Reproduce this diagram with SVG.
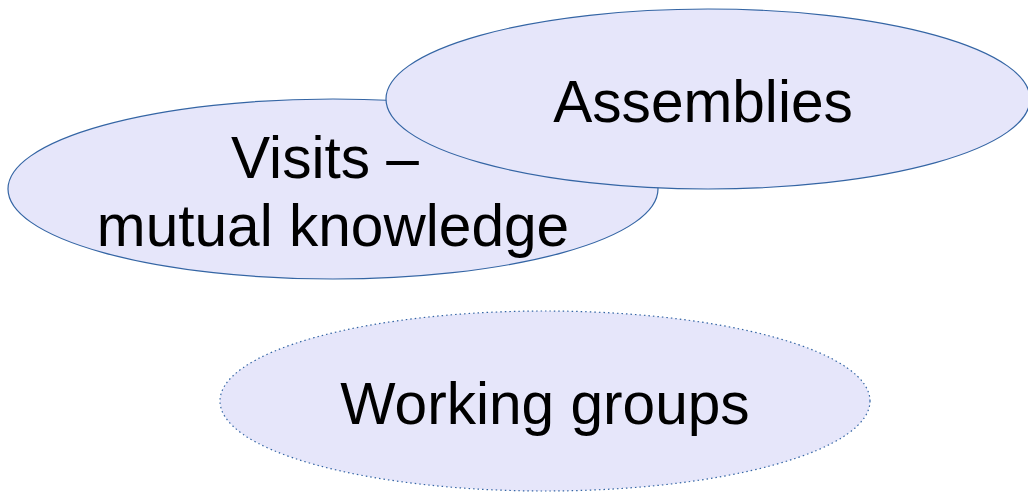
<svg xmlns="http://www.w3.org/2000/svg" width="1028" height="494" viewBox="0 0 1028 494">
<style>
.n{fill:#e6e6fa;stroke:#3465a4;stroke-width:1.2}
.d{stroke-dasharray:1.5 3}
text{font-family:"Liberation Sans",Arial,sans-serif;font-size:58.6px;fill:#000;text-anchor:middle}
</style>
<rect width="1028" height="494" fill="#fff"/>
<g id="visits">
<ellipse class="n" cx="333" cy="189" rx="325" ry="90"/>
<text x="325" y="178">Visits –</text>
<text x="333" y="246">mutual knowledge</text>
</g>
<g id="assemblies">
<ellipse class="n" cx="708" cy="99" rx="322" ry="90"/>
<text x="703" y="122">Assemblies</text>
</g>
<g id="working-groups">
<ellipse class="n d" cx="545" cy="401" rx="325" ry="90"/>
<text x="545" y="424">Working groups</text>
</g>
<g id="connectors"/>
</svg>
